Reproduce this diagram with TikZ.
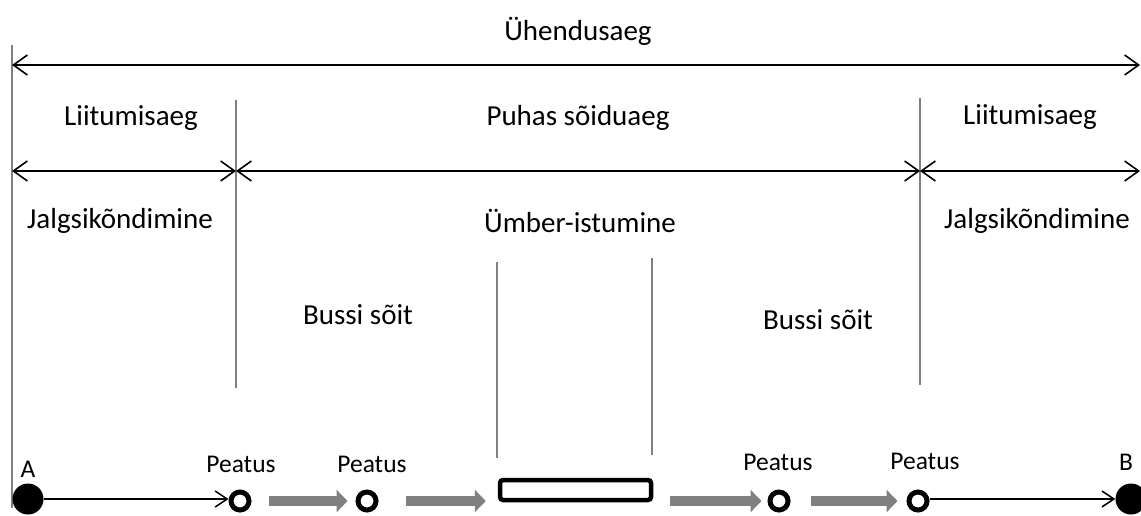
\documentclass[tikz,border=0pt]{standalone}
\usepackage{fontspec}
\setmainfont{Carlito}
\usetikzlibrary{arrows.meta}
\definecolor{guidegray}{HTML}{808080}
\definecolor{flowgray}{HTML}{808080}
\tikzset{
  guideline/.style={draw=guidegray, line width=1.8pt},
  timespan/.style={line width=1.6pt,
    {Straight Barb[length=14pt,width=20pt]}-{Straight Barb[length=14pt,width=20pt]}},
  lbl/.style={font=\fontsize{29}{34}\selectfont, anchor=base, inner sep=0pt},
  smalllbl/.style={font=\fontsize{25.5}{30}\selectfont, anchor=base, inner sep=0pt},
  busstop/.style={circle, draw, line width=5pt, minimum size=18pt, inner sep=0pt},
  terminal/.style={circle, fill=black, minimum size=31pt, inner sep=0pt},
  transfer/.style={draw, line width=4.5pt, rounded corners=3pt, minimum width=151pt,
    minimum height=20pt, inner sep=0pt},
  walk/.style={line width=1.5pt, -{Straight Barb[length=12pt,width=16pt]}},
  ride/.style={draw=flowgray, line width=10pt, -{Triangle[length=11pt,width=22pt]}},
}
\begin{document}
\begin{tikzpicture}[x=1pt,y=-1pt]
  \useasboundingbox (0,0) rectangle (1141,516);

  % vertical guide lines
  \coordinate (g0t) at (12,45);   \coordinate (g0b) at (12,508);
  \coordinate (g1t) at (236,100); \coordinate (g1b) at (236,388);
  \coordinate (g2t) at (920,98);  \coordinate (g2b) at (920,385);
  \coordinate (g3t) at (497,262); \coordinate (g3b) at (497,458);
  \coordinate (g4t) at (652,258); \coordinate (g4b) at (652,455);
  \foreach \g in {g0,g1,g2,g3,g4} \draw[guideline] (\g t) -- (\g b);

  % time spans
  \coordinate (o1) at (12,65);   \coordinate (o2) at (1140,65);
  \coordinate (s0) at (12,171);  \coordinate (s1) at (236,171);
  \coordinate (s2) at (920,171); \coordinate (s3) at (1140,171);
  \draw[timespan] (o1) -- (o2);
  \draw[timespan] (s0) -- (s1);
  \draw[timespan] (s1) -- (s2);
  \draw[timespan] (s2) -- (s3);

  % labels
  \node[lbl] (total) at (578,41) {Ühendusaeg};
  \node[lbl] (join1) at (131,126) {Liitumisaeg};
  \node[lbl] (net)   at (578,126) {Puhas sõiduaeg};
  \node[lbl] (join2) at (1030,125) {Liitumisaeg};
  \node[lbl] (walk1) at (120,229) {Jalgsikõndimine};
  \node[lbl] (change) at (580,233) {Ümber-istumine};
  \node[lbl] (walk2) at (1037,229) {Jalgsikõndimine};
  \node[lbl] (bus1) at (358,324) {Bussi sõit};
  \node[lbl] (bus2) at (818,329) {Bussi sõit};

  % route
  \node[terminal] (A) at (28,499) {};
  \node[terminal] (B) at (1131,499) {};
  \node[busstop] (P1) at (240,501) {};
  \node[busstop] (P2) at (367,501) {};
  \node[transfer] (T) at (575.5,490) {};
  \node[busstop] (P3) at (779,501) {};
  \node[busstop] (P4) at (918,501) {};

  \node[smalllbl] (la) at (28,477) {A};
  \node[smalllbl] (lb) at (1126,470) {B};
  \node[smalllbl] (l1) at (241,472) {Peatus};
  \node[smalllbl] (l2) at (372,472) {Peatus};
  \node[smalllbl] (l3) at (778,470) {Peatus};
  \node[smalllbl] (l4) at (925,469) {Peatus};

  \draw[walk] (A) -- (A -| P1.west);
  \draw[walk] (P4.east |- B) -- (B);
  \draw[ride, shorten <=17pt, shorten >=8pt] (P1.east) -- (P2.west);
  \draw[ride, shorten <=27pt, shorten >=12pt] (P2.east) -- (P2.east -| T.west);
  \draw[ride, shorten <=17pt, shorten >=6pt] (P3.west -| T.east) -- (P3.west);
  \draw[ride, shorten <=20pt, shorten >=9pt] (P3.east) -- (P4.west);
\end{tikzpicture}
\end{document}
